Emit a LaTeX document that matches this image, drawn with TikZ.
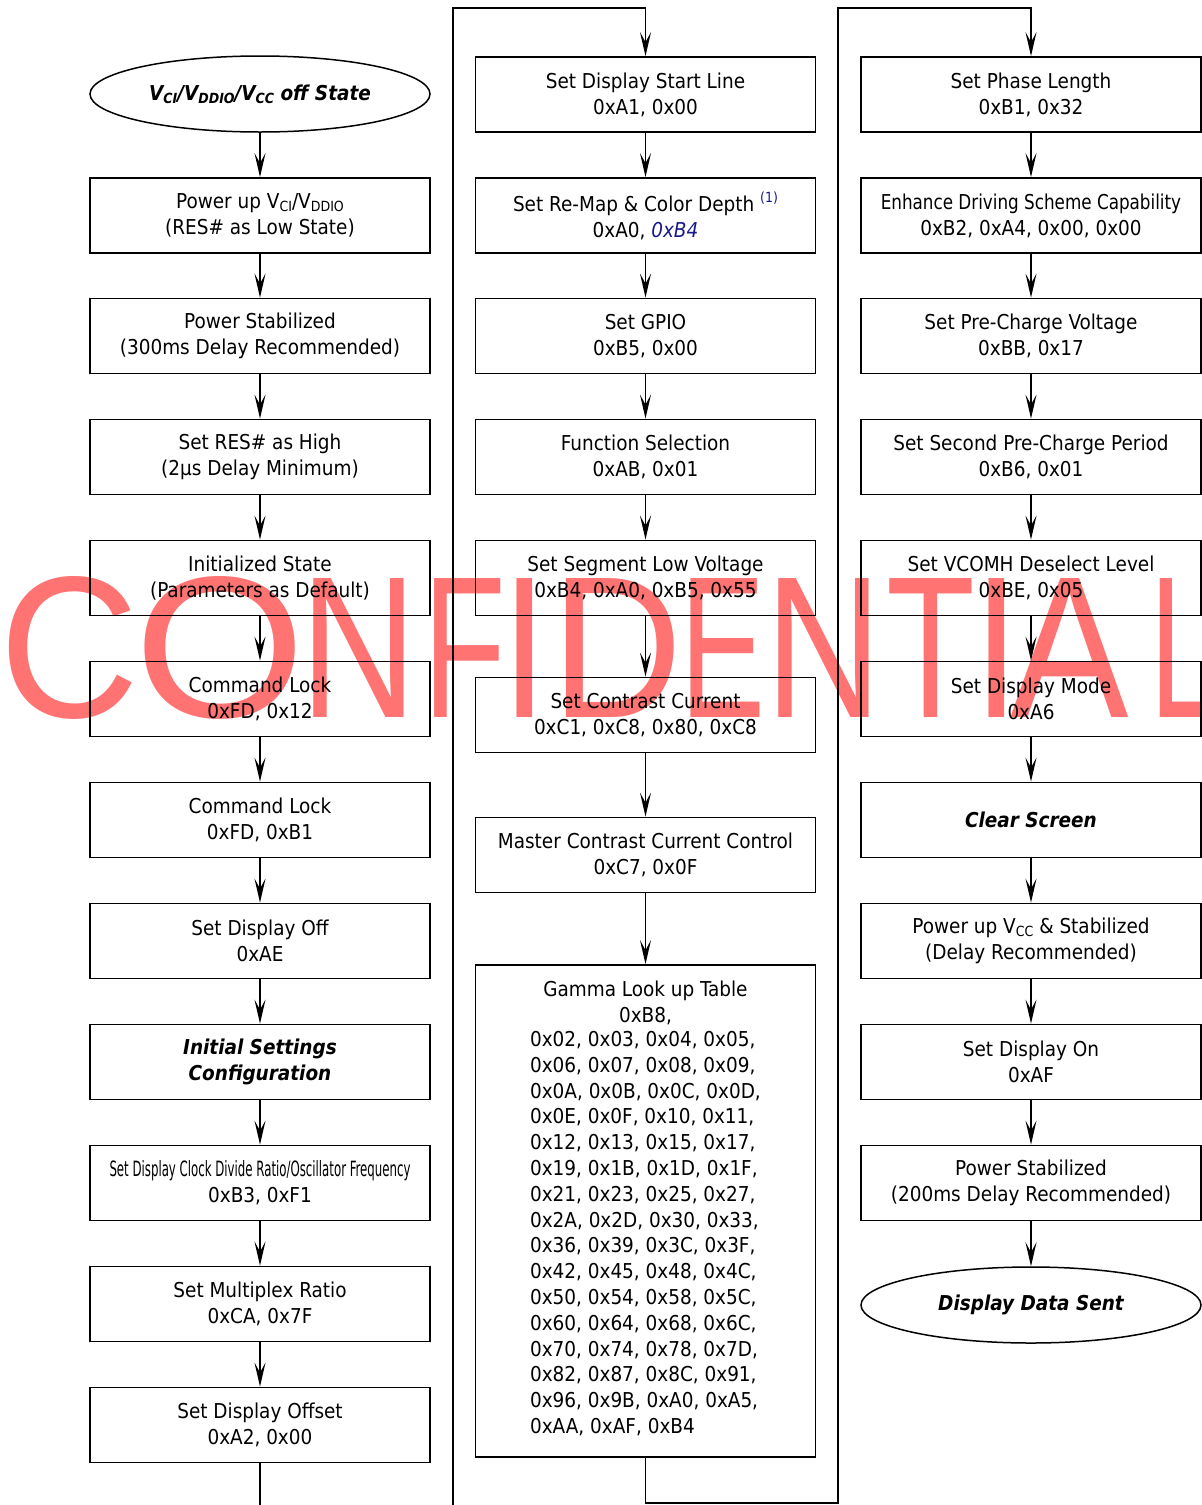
\documentclass[tikz,border=0pt]{standalone}
\usepackage{fontspec}
\usepackage{graphicx}
\setmainfont{DejaVu Sans Condensed}
\newfontfamily\wmfont{Liberation Sans}
\usetikzlibrary{shapes.geometric,arrows.meta}
\definecolor{navy}{rgb}{0.1,0.1,0.55}
\newcommand\fsz{\fontsize{20.5pt}{25.8pt}\selectfont}
\newcommand\sbs[1]{\raisebox{-0.25ex}{\fontsize{14pt}{14pt}\selectfont #1}}
\begin{document}
\begin{tikzpicture}[x=1pt,y=-1pt,
  box/.style={draw, line width=1.8pt, minimum width=340pt, minimum height=75pt, inner sep=0pt, align=center, font=\fsz},
  term/.style={ellipse, draw, line width=1.5pt, minimum width=340pt, minimum height=76pt, inner sep=0pt, align=center, font=\fsz\bfseries\itshape},
  flow/.style={line width=1.8pt, -{Stealth[length=24pt,width=11pt,inset=10pt]}},
  wire/.style={line width=1.8pt},
  wmark/.style={anchor=base, inner sep=0pt, text=red!55, font=\wmfont\fontsize{202pt}{202pt}\selectfont}]
\useasboundingbox (0,0) rectangle (1202,1505);
% watermark
\foreach \cx/\sx/\L in {70/0.96/C, 220/1.09/O, 359/0.8/N, 465/0.67/F, 525/0.83/I, 617/0.9/D, 723/0.63/E, 824/0.8/N, 931/0.72/T, 997/0.83/I, 1070/0.88/A, 1186/0.65/L}
  \node[wmark] at (\cx,717) {\scalebox{\sx}[1]{\L}};
% column 1
\node[term] (e1) at (260,94) {V\sbs{CI}/V\sbs{DDIO}/V\sbs{CC} off State};
\node[box] (b1) at (260,215.5) {Power up V\sbs{CI}/V\sbs{DDIO}\\(RES\# as Low State)};
\node[box] (b2) at (260,336) {Power Stabilized\\(300ms Delay Recommended)};
\node[box] (b3) at (260,457) {Set RES\# as High\\(2µs Delay Minimum)};
\node[box] (b4) at (260,578) {Initialized State\\(Parameters as Default)};
\node[box] (b5) at (260,699) {Command Lock\\0xFD, 0x12};
\node[box] (b6) at (260,820) {Command Lock\\0xFD, 0xB1};
\node[box] (b7) at (260,941) {Set Display Off\\0xAE};
\node[box, font=\fsz\bfseries\itshape] (b8) at (260,1062) {Initial Settings\\Configuration};
\node[box] (b9) at (260,1183) {\resizebox{301pt}{16pt}{Set Display Clock Divide Ratio/Oscillator Frequency}\\0xB3, 0xF1};
\node[box] (b10) at (260,1304) {Set Multiplex Ratio\\0xCA, 0x7F};
\node[box] (b11) at (260,1425) {Set Display Offset\\0xA2, 0x00};
% column 2
\node[box] (c1) at (645.5,94.5) {Set Display Start Line\\0xA1, 0x00};
\node[box] (c2) at (645.5,215.5) {Set Re-Map \& Color Depth {\color{navy}\raisebox{0.8ex}{\fontsize{14pt}{14pt}\selectfont(1)}}\\0xA0, {\color{navy}\itshape 0xB4}};
\node[box] (c3) at (645.5,336) {Set GPIO\\0xB5, 0x00};
\node[box] (c4) at (645.5,457) {Function Selection\\0xAB, 0x01};
\node[box] (c5) at (645.5,578) {Set Segment Low Voltage\\0xB4, 0xA0, 0xB5, 0x55};
\node[box] (c6) at (645.5,715) {Set Contrast Current\\0xC1, 0xC8, 0x80, 0xC8};
\node[box] (c7) at (645.5,855) {Master Contrast Current Control\\0xC7, 0x0F};
\node[box, minimum height=492pt, inner ysep=0pt] (c8) at (645.5,1211) {Gamma Look up Table\\0xB8,\\[3pt]%
\begin{tabular}{@{}l@{}}
0x02, 0x03, 0x04, 0x05,\\
0x06, 0x07, 0x08, 0x09,\\
0x0A, 0x0B, 0x0C, 0x0D,\\
0x0E, 0x0F, 0x10, 0x11,\\
0x12, 0x13, 0x15, 0x17,\\
0x19, 0x1B, 0x1D, 0x1F,\\
0x21, 0x23, 0x25, 0x27,\\
0x2A, 0x2D, 0x30, 0x33,\\
0x36, 0x39, 0x3C, 0x3F,\\
0x42, 0x45, 0x48, 0x4C,\\
0x50, 0x54, 0x58, 0x5C,\\
0x60, 0x64, 0x68, 0x6C,\\
0x70, 0x74, 0x78, 0x7D,\\
0x82, 0x87, 0x8C, 0x91,\\
0x96, 0x9B, 0xA0, 0xA5,\\
0xAA, 0xAF, 0xB4
\end{tabular}};
% column 3
\node[box] (r1) at (1031,94.5) {Set Phase Length\\0xB1, 0x32};
\node[box] (r2) at (1031,215.5) {\scalebox{0.91}[1]{Enhance Driving Scheme Capability}\\0xB2, 0xA4, 0x00, 0x00};
\node[box] (r3) at (1031,336) {Set Pre-Charge Voltage\\0xBB, 0x17};
\node[box] (r4) at (1031,457) {Set Second Pre-Charge Period\\0xB6, 0x01};
\node[box] (r5) at (1031,578) {Set VCOMH Deselect Level\\0xBE, 0x05};
\node[box] (r6) at (1031,699) {Set Display Mode\\0xA6};
\node[box, font=\fsz\bfseries\itshape] (r7) at (1031,820) {Clear Screen};
\node[box] (r8) at (1031,941) {Power up V\sbs{CC} \& Stabilized\\(Delay Recommended)};
\node[box] (r9) at (1031,1062) {Set Display On\\0xAF};
\node[box] (r10) at (1031,1183) {Power Stabilized\\(200ms Delay Recommended)};
\node[term] (r11) at (1031,1305) {Display Data Sent};
% connectors
\foreach \a/\b in {e1/b1,b1/b2,b2/b3,b3/b4,b4/b5,b5/b6,b6/b7,b7/b8,b8/b9,b9/b10,b10/b11,
  c1/c2,c2/c3,c3/c4,c4/c5,c5/c6,c6/c7,c7/c8,
  r1/r2,r2/r3,r3/r4,r4/r5,r5/r6,r6/r7,r7/r8,r8/r9,r9/r10,r10/r11}
  \draw[flow] (\a) -- (\b);
\coordinate (p1) at (260,1505);
\coordinate (p2) at (453,1505);
\coordinate (p3) at (453,8);
\draw[wire] (b11) -- (p1);
\draw[flow] (p2) -- (p3) -| (c1);
\coordinate (q1) at (838,1503);
\coordinate (q2) at (838,8);
\draw[flow] (c8.south) |- (q1) -- (q2) -| (r1);
\end{tikzpicture}
\end{document}
